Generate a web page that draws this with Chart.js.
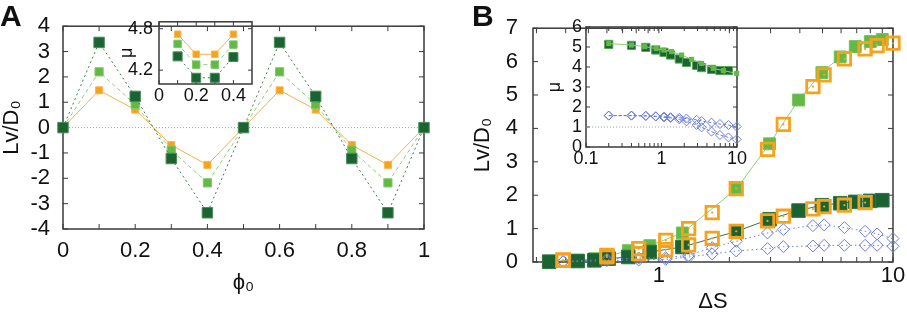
<!DOCTYPE html>
<html>
<head>
<meta charset="utf-8">
<script src="https://cdn.jsdelivr.net/npm/chart.js@4.4.1/dist/chart.umd.min.js"></script>
<style>
  body { margin: 0; background: #fff; width: 907px; height: 313px; position: relative; overflow: hidden; }
  .box { position: absolute; }
  .tag { position: absolute; font: bold 30px "Liberation Sans", Arial, sans-serif; line-height: 30px; color: #111; }
</style>
</head>
<body>
<div class="box" style="left:0;top:0"><canvas id="mainA" width="450" height="313"></canvas></div>
<div class="box" style="left:110px;top:5px"><canvas id="insetA" width="160" height="105"></canvas></div>
<div class="box" style="left:460px;top:0"><canvas id="mainB" width="447" height="313"></canvas></div>
<div class="box" style="left:540px;top:10px"><canvas id="insetB" width="210" height="165"></canvas></div>
<div class="tag" style="left:0;top:1px">A</div>
<div class="tag" style="left:472px;top:1px">B</div>
<script>
// panel A: drift vs phase offset
const phi0 = [0, 0.1, 0.2, 0.3, 0.4, 0.5, 0.6, 0.7, 0.8, 0.9, 1.0];
const lvDarkA = [0, 3.36, 1.23, -1.22, -3.36, 0, 3.36, 1.23, -1.22, -3.36, 0];
const lvLightA = [0, 2.2, 0.91, -0.89, -2.18, 0, 2.2, 0.91, -0.89, -2.18, 0];
const lvOrangeA = [0, 1.47, 0.71, -0.69, -1.47, 0, 1.47, 0.71, -0.69, -1.47, 0];
const aXTicks = [0, 0.2, 0.4, 0.6, 0.8, 1];
const aXMinor = [0.1, 0.3, 0.5, 0.7, 0.9];
const aYTicks = [-4, -3, -2, -1, 0, 1, 2, 3, 4];

// panel A inset: mu vs phase offset
const phiInset = [0.1, 0.2, 0.3, 0.4];
const muOrangeA = [4.72, 4.43, 4.43, 4.72];
const muLightA = [4.58, 4.28, 4.28, 4.57];
const muDarkA = [4.40, 4.09, 4.09, 4.39];
const aInXTicks = [0, 0.2, 0.4];
const aInXMinor = [0.1, 0.3];
const aInYTicks = [4.2, 4.8];

// panel B: drift vs Delta S
const dsGreen = [0.34, 0.45, 0.53, 0.61, 0.74, 0.915, 1.26, 2.15, 2.97, 3.95, 4.97, 5.95, 6.9, 8.0, 9.0];
const lvLightB = [0.02, 0.05, 0.1, 0.18, 0.34, 0.49, 0.87, 2.2, 3.54, 4.85, 5.67, 6.14, 6.45, 6.6, 6.66];
const lvDarkB = [0.01, 0.03, 0.05, 0.1, 0.15, 0.3, 0.45, 0.92, 1.28, 1.54, 1.7, 1.76, 1.8, 1.83, 1.85];
const dsOpen = [0.39, 0.60, 0.82, 1.07, 1.34, 1.69, 2.14, 2.91, 3.4, 4.55, 5.08, 6.2, 7.6, 8.55, 10];
const lvOrangeHi = [0.06, 0.2, 0.4, 0.65, 1.0, 1.48, 2.2, 3.37, 4.12, 5.25, 5.6, 6.08, 6.38, 6.48, 6.55];
const lvOrangeLo = [0.05, 0.15, 0.25, 0.37, 0.51, 0.71, 0.92, 1.23, 1.37, 1.59, 1.66, 1.70, 1.78];
const lvBlueHi = [0.01, 0.08, 0.12, 0.13, 0.2, 0.43, 0.62, 0.87, 0.97, 1.09, 1.11, 1.03, 0.92, 0.84, 0.70];
const lvBlueLo = [0.01, 0.04, 0.06, 0.08, 0.15, 0.24, 0.33, 0.40, 0.46, 0.48, 0.5, 0.5, 0.5, 0.5, 0.47];
const bXTicks = [1, 10];
const bXMinor = [0.3, 0.4, 0.5, 0.6, 0.7, 0.8, 0.9, 2, 3, 4, 5, 6, 7, 8, 9];
const bYTicks = [0, 1, 2, 3, 4, 5, 6, 7];

// panel B inset: mu vs Delta S
const dsInDark = [0.2, 0.4, 0.62, 0.84, 1.08, 1.32, 1.72, 2.14, 2.92, 3.4, 4.6, 5.95, 7.7];
const muDarkB = [5.13, 5.08, 4.98, 4.85, 4.73, 4.6, 4.4, 4.23, 4.08, 3.97, 3.88, 3.82, 3.82];
const dsInLight = [0.2, 0.4, 0.6, 0.85, 1.07, 1.36, 1.85, 2.5, 3.4, 4.85, 6.6, 9.9];
const muLightB = [5.17, 5.1, 5.02, 4.92, 4.85, 4.77, 4.6, 4.38, 4.18, 3.93, 3.82, 3.68];
const dsInBlue = [0.2, 0.4, 0.62, 0.84, 1.08, 1.32, 1.72, 2.14, 2.92, 3.4, 4.6, 5.95, 7.7, 9.9];
const muBlueHi = [1.57, 1.57, 1.56, 1.54, 1.52, 1.49, 1.46, 1.42, 1.36, 1.3, 1.22, 1.15, 1.1, 1.02];
const muBlueLo = [1.57, 1.57, 1.55, 1.52, 1.48, 1.45, 1.38, 1.28, 1.1, 0.98, 0.77, 0.6, 0.48, 0.38];
const bInXTicks = [0.1, 1, 10];
const bInXMinor = [0.2, 0.3, 0.4, 0.5, 0.6, 0.7, 0.8, 0.9, 2, 3, 4, 5, 6, 7, 8, 9];
const bInYTicks = [0, 1, 2, 3, 4, 5, 6];

const ORANGE = '#f7a21b', LIGHT = '#62b946', DARK = '#1b6332', BLUE = '#6d7fd8';
const FONT = '"Liberation Sans", Arial, sans-serif';
Chart.defaults.font.family = FONT;
Chart.defaults.color = '#111';

// inward ticks on all four sides plus the box, gnuplot style
const frame = {
  id: 'frame',
  beforeDatasetsDraw(chart, args, o) {
    const { ctx, chartArea: a } = chart;
    const sx = chart.scales.x, sy = chart.scales.y;
    ctx.save();
    ctx.strokeStyle = '#3a3a3a';
    ctx.lineWidth = 1;
    ctx.beginPath();
    sx.ticks.map(t => t.value).concat(o.xMinor || []).forEach(v => {
      const p = sx.getPixelForValue(v);
      ctx.moveTo(p, a.bottom); ctx.lineTo(p, a.bottom - o.len);
      ctx.moveTo(p, a.top); ctx.lineTo(p, a.top + o.len);
    });
    sy.ticks.map(t => t.value).forEach(v => {
      const p = sy.getPixelForValue(v);
      ctx.moveTo(a.left, p); ctx.lineTo(a.left + o.len, p);
      ctx.moveTo(a.right, p); ctx.lineTo(a.right - o.len, p);
    });
    ctx.stroke();
    ctx.lineWidth = 1.5;
    ctx.strokeRect(a.left, a.top, a.width, a.height);
    ctx.restore();
  }
};

function pts(xs, ys) {
  return ys.map((y, i) => ({ x: xs[i], y }));
}

function series(xs, ys, style) {
  return Object.assign({ data: pts(xs, ys), clip: false, showLine: false, pointRadius: 0, borderWidth: 1 }, style);
}

function axis(type, min, max, ticks, size, fontSize, pad, title, titlePad, sizeKey) {
  return {
    type, min, max,
    afterBuildTicks: s => { s.ticks = ticks.map(v => ({ value: v })); },
    afterFit: s => { s[sizeKey] = size; },
    ticks: { padding: pad, font: { size: fontSize }, callback: v => String(v), maxRotation: 0, autoSkip: false },
    grid: { display: false, drawTicks: false },
    border: { display: false },
    title: { display: true, text: title, font: { size: fontSize, lineHeight: 1 }, padding: titlePad }
  };
}

function makeChart(id, datasets, padding, scales, frameOpts) {
  return new Chart(document.getElementById(id), {
    type: 'scatter',
    data: { datasets },
    options: {
      responsive: false,
      animation: false,
      events: [],
      layout: { padding },
      plugins: { legend: { display: false }, tooltip: { enabled: false }, frame: frameOpts },
      scales
    },
    plugins: [frame]
  });
}

// ---- panel A
makeChart('mainA', [
  series(phi0, lvDarkA, { showLine: true, borderColor: '#3e7f4c', borderDash: [2, 3], pointStyle: 'rect', pointRadius: 7.4, pointBackgroundColor: DARK, pointBorderColor: '#4c8d5a', pointBorderWidth: 1 }),
  series(phi0, lvLightA, { showLine: true, borderColor: '#8fcf78', borderDash: [4, 3], pointStyle: 'rect', pointRadius: 5.8, pointBackgroundColor: LIGHT, pointBorderColor: '#80c868', pointBorderWidth: 1 }),
  series(phi0, lvOrangeA, { showLine: true, borderColor: '#f8b04a', pointStyle: 'rect', pointRadius: 5, pointBackgroundColor: ORANGE, pointBorderColor: '#f9b650', pointBorderWidth: 1 }),
  series([aXTicks[0], aXTicks[aXTicks.length - 1]], [0, 0], { showLine: true, borderColor: '#a0a0a0', borderDash: [1, 2] })
], { left: 0, right: 26, top: 14, bottom: 0 }, {
  x: axis('linear', 0, 1, aXTicks, 84, 22, 9, 'ϕ₀', 19, 'height'),
  y: axis('linear', -4, 4, aYTicks, 63, 22, 13, 'Lv/D₀', 1, 'width')
}, { len: 5, xMinor: aXMinor });

makeChart('insetA', [
  series(phiInset, muOrangeA, { showLine: true, borderColor: '#f8b04a', pointStyle: 'rect', pointRadius: 4.6, pointBackgroundColor: ORANGE, pointBorderColor: '#f9b650', pointBorderWidth: 1 }),
  series(phiInset, muLightA, { showLine: true, borderColor: '#8fcf78', borderDash: [4, 3], pointStyle: 'rect', pointRadius: 5.3, pointBackgroundColor: LIGHT, pointBorderColor: '#80c868', pointBorderWidth: 1 }),
  series(phiInset, muDarkA, { showLine: true, borderColor: '#3e7f4c', borderDash: [2, 3], pointStyle: 'rect', pointRadius: 6.4, pointBackgroundColor: DARK, pointBorderColor: '#4c8d5a', pointBorderWidth: 1 })
], { left: 0, right: 18, top: 13, bottom: 0 }, {
  x: axis('linear', 0, 0.5, aInXTicks, 26, 18, 1, '', 0, 'height'),
  y: axis('linear', 4.0, 4.9, aInYTicks, 49, 18, 6, 'μ', 8, 'width')
}, { len: 4, xMinor: aInXMinor });

// ---- panel B
makeChart('mainB', [
  series(dsOpen, lvOrangeHi, { pointStyle: 'circle', pointRadius: 1.1, pointBackgroundColor: ORANGE, pointBorderWidth: 0 }),
  series(dsOpen, lvOrangeLo, { pointStyle: 'circle', pointRadius: 1.1, pointBackgroundColor: ORANGE, pointBorderWidth: 0 }),
  series(dsOpen, lvOrangeHi, { pointStyle: 'rect', pointRadius: 8.8, pointBackgroundColor: 'rgba(0,0,0,0)', pointBorderColor: ORANGE, pointBorderWidth: 2.8 }),
  series(dsOpen, lvOrangeLo, { pointStyle: 'rect', pointRadius: 8.8, pointBackgroundColor: 'rgba(0,0,0,0)', pointBorderColor: ORANGE, pointBorderWidth: 2.8 }),
  series(dsOpen, lvBlueHi, { showLine: true, borderColor: BLUE, borderDash: [1.5, 3], pointStyle: 'rectRot', pointRadius: 6, pointBackgroundColor: 'rgba(0,0,0,0)', pointBorderColor: BLUE, pointBorderWidth: 1 }),
  series(dsOpen, lvBlueLo, { showLine: true, borderColor: BLUE, borderDash: [1.5, 3], pointStyle: 'rectRot', pointRadius: 6, pointBackgroundColor: 'rgba(0,0,0,0)', pointBorderColor: BLUE, pointBorderWidth: 1 }),
  series(dsGreen, lvDarkB, { showLine: true, borderColor: '#3f7046', pointStyle: 'rect', pointRadius: 9.6, pointBackgroundColor: DARK, pointBorderColor: '#2f7440', pointBorderWidth: 1 }),
  series(dsGreen, lvLightB, { showLine: true, borderColor: '#8fd17a', pointStyle: 'rect', pointRadius: 8.4, pointBackgroundColor: LIGHT, pointBorderColor: '#74c25a', pointBorderWidth: 1 })
], { left: 0, right: 14, top: 14, bottom: 0 }, {
  x: axis('logarithmic', 0.29, 10, bXTicks, 51, 22, 1, 'ΔS', 0, 'height'),
  y: axis('linear', 0, 7, bYTicks, 73, 22, 15, 'Lv/D₀', 12, 'width')
}, { len: 5, xMinor: bXMinor });

makeChart('insetB', [
  series(dsInLight, muLightB, { showLine: true, borderColor: '#8fd17a', pointStyle: 'rect', pointRadius: 3.6, pointBackgroundColor: LIGHT, pointBorderWidth: 0 }),
  series(dsInDark, muDarkB, { pointStyle: 'rect', pointRadius: 5.8, pointBackgroundColor: DARK, pointBorderColor: '#5aa657', pointBorderWidth: 1 }),
  series(dsInBlue, muBlueHi, { showLine: true, borderColor: BLUE, borderDash: [3, 2], pointStyle: 'rectRot', pointRadius: 4.5, pointBackgroundColor: 'rgba(0,0,0,0)', pointBorderColor: BLUE, pointBorderWidth: 1 }),
  series(dsInBlue, muBlueLo, { showLine: true, borderColor: BLUE, borderDash: [3, 2], pointStyle: 'rectRot', pointRadius: 4.5, pointBackgroundColor: 'rgba(0,0,0,0)', pointBorderColor: BLUE, pointBorderWidth: 1 }),
  series([bInXTicks[0], bInXTicks[bInXTicks.length - 1]], [1, 1], { showLine: true, borderColor: '#a0a0a0', borderDash: [1, 2] })
], { left: 0, right: 13, top: 17, bottom: 0 }, {
  x: axis('logarithmic', 0.1, 10, bInXTicks, 28, 18, 1, '', 0, 'height'),
  y: axis('linear', 0, 6, bInYTicks, 46, 18, 4, 'μ', 6, 'width')
}, { len: 4, xMinor: bInXMinor });
</script>
</body>
</html>
